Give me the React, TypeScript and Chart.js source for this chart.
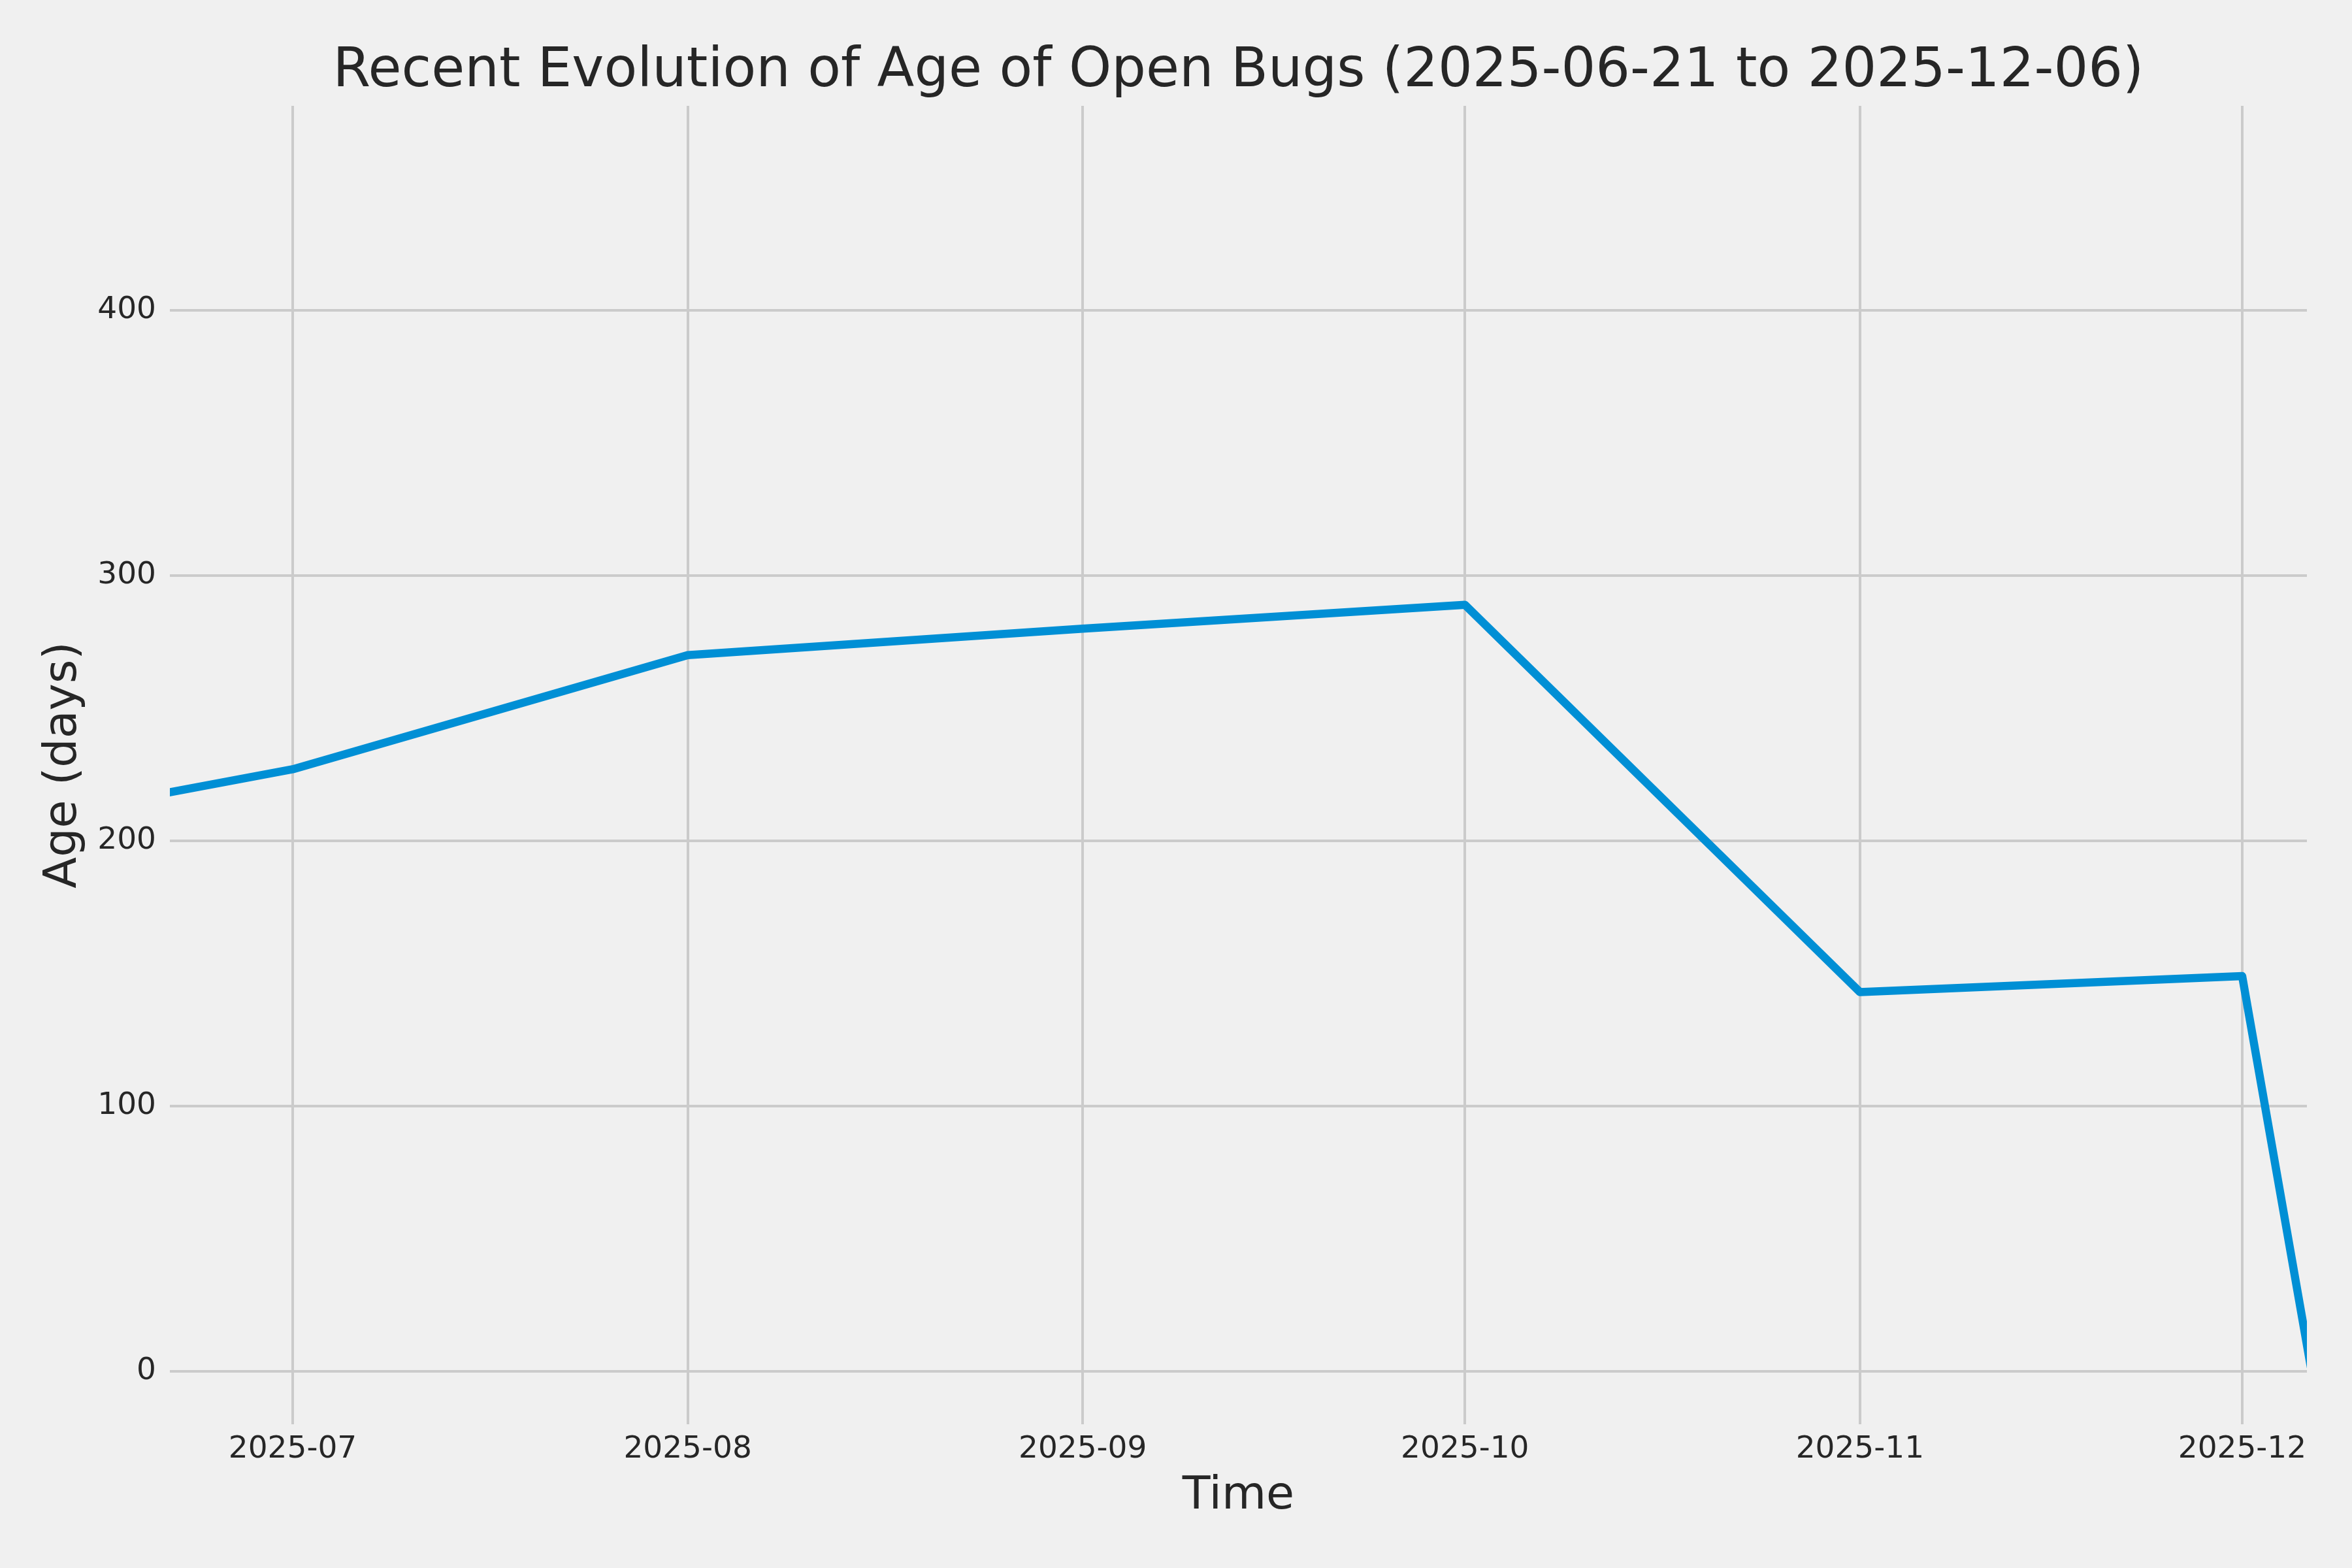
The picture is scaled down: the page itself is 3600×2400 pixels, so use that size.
import React, { useEffect, useRef } from "react";
import { Chart, registerables } from "chart.js";

Chart.register(...registerables);

// ---- data ----
const originDate = "2025-06-21";
const dates = [
  "2025-06-21",
  "2025-07-01",
  "2025-08-01",
  "2025-09-01",
  "2025-10-01",
  "2025-11-01",
  "2025-12-01",
  "2025-12-06T08:00",
];
const ages = [218, 227, 270, 280, 289, 143, 149, 3];

const tickDates = ["2025-07-01", "2025-08-01", "2025-09-01", "2025-10-01", "2025-11-01", "2025-12-01"];
const tickLabels = ["2025-07", "2025-08", "2025-09", "2025-10", "2025-11", "2025-12"];
const yTicks = [0, 100, 200, 300, 400];

const xMinDays = 0.36;
const xMaxDays = 168.08;
const yMin = -19.95;
const yMax = 477.1;

const titleText = "Recent Evolution of Age of Open Bugs (2025-06-21 to 2025-12-06)";
const xTitle = "Time";
const yTitle = "Age (days)";

const FONT = "'DejaVu Sans', sans-serif";
const TEXT = "#262626";
const GRID = "#cbcbcb";
const BG = "#f0f0f0";
const LINE = "#008fd5";

function toUTC(s: string): number {
  if (s.indexOf("T") >= 0) return Date.parse(s + ":00Z");
  return Date.parse(s + "T00:00:00Z");
}

function dayOf(s: string): number {
  return (toUTC(s) - toUTC(originDate)) / 86400000;
}

const titlePlugin = {
  id: "centeredTitle",
  beforeDraw(chart: any) {
    const ctx = chart.ctx;
    ctx.save();
    ctx.fillStyle = BG;
    ctx.fillRect(0, 0, chart.width, chart.height);
    ctx.restore();
  },
  afterDraw(chart: any) {
    const { ctx, chartArea } = chart;
    ctx.save();
    ctx.font = `83px ${FONT}`;
    ctx.fillStyle = TEXT;
    ctx.textAlign = "center";
    ctx.textBaseline = "alphabetic";
    ctx.fillText(titleText, (chartArea.left + chartArea.right) / 2, 132);
    ctx.restore();
  },
};

export default function App() {
  const ref = useRef<HTMLCanvasElement | null>(null);

  useEffect(() => {
    if (!ref.current) return;
    const chart = new Chart(ref.current, {
      type: "line",
      data: {
        datasets: [
          {
            data: dates.map((d, i) => ({ x: dayOf(d), y: ages[i] })),
            borderColor: LINE,
            backgroundColor: LINE,
            borderWidth: 12.5,
            pointRadius: 0,
            pointHoverRadius: 0,
            tension: 0,
            borderJoinStyle: "round",
            borderCapStyle: "square",
            clip: 0,
            fill: false,
          } as any,
        ],
      },
      options: {
        animation: false,
        responsive: false,
        devicePixelRatio: 1,
        layout: { padding: { left: 56, right: 69, top: 162, bottom: 67 } },
        plugins: {
          legend: { display: false },
          tooltip: { enabled: false },
          title: { display: false },
        },
        scales: {
          x: {
            type: "linear",
            min: xMinDays,
            max: xMaxDays,
            afterBuildTicks: (scale: any) => {
              scale.ticks = tickDates.map((d) => ({ value: dayOf(d) }));
            },
            afterFit: (scale: any) => {
              scale.height = 153;
            },
            ticks: {
              autoSkip: false,
              maxRotation: 0,
              minRotation: 0,
              padding: 11,
              color: TEXT,
              font: { family: FONT, size: 47 },
              callback: (v: any) => {
                const i = tickDates.findIndex((d) => Math.abs(dayOf(d) - Number(v)) < 1e-6);
                return i >= 0 ? tickLabels[i] : "";
              },
            },
            grid: { color: GRID, lineWidth: 4, drawTicks: false },
            border: { display: false },
            title: {
              display: true,
              text: xTitle,
              color: TEXT,
              font: { family: FONT, size: 70 },
              padding: 0,
            },
          },
          y: {
            type: "linear",
            min: yMin,
            max: yMax,
            afterBuildTicks: (scale: any) => {
              scale.ticks = yTicks.map((v) => ({ value: v }));
            },
            afterFit: (scale: any) => {
              scale.width = 204;
            },
            ticks: {
              padding: 21,
              color: TEXT,
              font: { family: FONT, size: 47 },
              callback: (v: any) => String(v),
            },
            grid: { color: GRID, lineWidth: 4, drawTicks: false },
            border: { display: false },
            title: {
              display: true,
              text: yTitle,
              color: TEXT,
              font: { family: FONT, size: 70 },
              padding: 0,
            },
          },
        },
      },
      plugins: [titlePlugin],
    });
    return () => chart.destroy();
  }, []);

  return (
    <div
      style={{
        position: "fixed",
        left: 0,
        top: 0,
        width: 3600,
        height: 2400,
        background: BG,
      }}
    >
      <canvas ref={ref} width={3600} height={2400} style={{ display: "block", width: 3600, height: 2400 }} />
    </div>
  );
}
